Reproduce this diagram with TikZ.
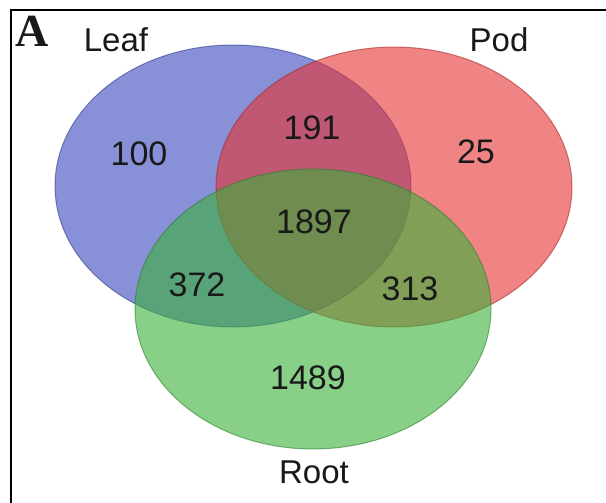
\documentclass[tikz,border=0pt]{standalone}
\usepackage{fontspec}
\setmainfont{Liberation Sans}
\newfontfamily\serifbf{Liberation Serif}
\definecolor{leafc}{RGB}{57,73,190}
\definecolor{podc}{RGB}{230,50,50}
\definecolor{rootc}{RGB}{57,177,57}
\definecolor{txt}{RGB}{25,25,25}
\tikzset{
  setfill/.style={fill=#1, fill opacity=0.6, draw=#1!70!black, draw opacity=0.55, line width=1pt},
  numlab/.style={text=txt, inner sep=0pt, font=\fontsize{34}{40}\selectfont},
  setlab/.style={text=txt, inner sep=0pt, font=\fontsize{33}{40}\selectfont},
  frameline/.style={line width=2pt, draw=black}
}
\begin{document}
\begin{tikzpicture}[x=1pt,y=-1pt]
\useasboundingbox (0,0) rectangle (606,503);
\fill[white] (0,0) rectangle (606,503);
% frame
\coordinate (fbl) at (11,503);
\coordinate (ftl) at (11,10);
\coordinate (ftr) at (606,10);
\draw[frameline] (fbl) -- (ftl) -- (ftr);
% sets
\coordinate (leafc) at (233,186);
\coordinate (podc) at (394,187);
\coordinate (rootc) at (313,309);
\path[setfill=leafc] (leafc) ellipse [x radius=178, y radius=141];
\path[setfill=podc] (podc) ellipse [x radius=178, y radius=140];
\path[setfill=rootc] (rootc) ellipse [x radius=178, y radius=140];
% labels
\node[text=txt, inner sep=0pt, font=\serifbf\bfseries\fontsize{46}{50}\selectfont] (A) at (32,31) {A};
\node[setlab] (leaf) at (116,40) {Leaf};
\node[setlab] (pod) at (499,40) {Pod};
\node[setlab] (root) at (314,472) {Root};
% numbers
\node[numlab] (n100) at (139,154) {100};
\node[numlab] (n191) at (312,128) {191};
\node[numlab] (n25) at (476,152) {25};
\node[numlab] (n1897) at (314,222) {1897};
\node[numlab] (n372) at (197,285) {372};
\node[numlab] (n313) at (410,289) {313};
\node[numlab] (n1489) at (308,378) {1489};
\end{tikzpicture}
\end{document}
